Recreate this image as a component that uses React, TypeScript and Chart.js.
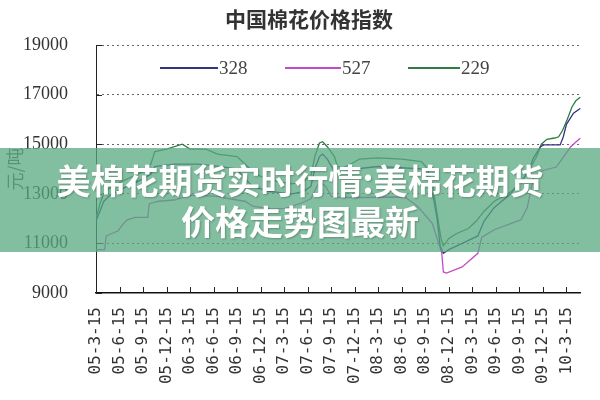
import React, { useEffect, useRef } from 'react';
import { Chart, registerables } from 'chart.js';

Chart.register(...registerables);

const chartTitle = '中国棉花价格指数';
const yAxisTitle = '元/吨';
const bannerLines = ['美棉花期货实时行情:美棉花期货', '价格走势图最新'];

const tickLabels = [
  '05-3-15', '05-6-15', '05-9-15', '05-12-15', '06-3-15', '06-6-15', '06-9-15',
  '06-12-15', '07-3-15', '07-6-15', '07-9-15', '07-12-15', '08-3-15', '08-6-15',
  '08-9-15', '08-12-15', '09-3-15', '09-6-15', '09-9-15', '09-12-15', '10-3-15',
];
const monthsPerTick = 3;
const xMaxMonth = 61.8;
const yMin = 9000;
const yMax = 19000;
const yStep = 2000;

const seriesNames = ['328', '527', '229'];
const seriesColors = ['#34357a', '#c24cc4', '#2f7c45'];

// months since 05-3-15
const months328 = [
  0, 0.5, 1, 2, 4, 6, 7, 7.5, 10, 13,
  16, 18, 19, 20, 22, 25, 26.5, 27.4, 27.9, 28.5,
  28.9, 29.5, 30.4, 31, 33, 36, 39, 41.5, 42.3, 43,
  43.5, 43.9, 44.3, 45, 46.7, 48.7, 49.5, 50.8, 52.9, 55,
  55.8, 56.7, 57.1, 59.2, 59.6, 60, 60.9, 61.8,
];
const values328 = [
  11900, 12300, 12700, 13000, 13300, 13600, 13800, 14100, 14200, 14200,
  14100, 14000, 13600, 13300, 13100, 13000, 13100, 13300, 14000, 14500,
  14600, 14400, 13900, 13800, 14000, 14100, 14050, 14000, 13700, 12900,
  12000, 10900, 10600, 10750, 11000, 11300, 11900, 12450, 13000, 13800,
  14450, 14900, 14970, 14970, 15300, 15800, 16250, 16450,
];

const months527 = [
  0, 1.1, 1.3, 2, 2.8, 3.5, 4, 5, 6.6, 6.8,
  8, 10, 11.5, 12, 15.5, 17, 19, 20, 22, 24,
  26, 27.4, 28.5, 29.3, 30, 31, 34, 38, 39.5, 41,
  42.9, 43.7, 44.1, 44.3, 44.7, 46.7, 48.7, 49.2, 50.8, 52.9,
  54.2, 55, 55.8, 57.1, 58.7, 59.6, 60.5, 61.2, 61.8,
];
const values527 = [
  10750, 10750, 11300, 11400, 11500, 11800, 11950, 12050, 12050, 12600,
  12700, 12750, 12900, 12950, 12900, 12800, 12700, 12500, 12400, 12400,
  12600, 12800, 13500, 13300, 12900, 12850, 12850, 12870, 12850, 12500,
  11800, 11000, 10600, 9850, 9800, 10050, 10600, 11250, 11550, 11800,
  11950, 12450, 13650, 13950, 14080, 14480, 14880, 15090, 15250,
];

const months229 = [
  0, 0.5, 1, 2, 4, 6, 7, 7.5, 9, 11,
  12, 14, 15.5, 18, 19, 20, 21, 23, 25, 26.5,
  27.4, 27.9, 28.5, 28.9, 29.5, 30.4, 30.8, 31.5, 32.5, 33.6,
  36, 39, 41.5, 42.3, 43, 43.5, 44, 44.3, 45, 46,
  47.5, 48.5, 49.5, 50.8, 52, 53, 54.5, 55.5, 56.2, 56.8,
  57.5, 58.5, 59, 59.5, 60.1, 60.7, 61.2, 61.8,
];
const values229 = [
  12000, 12600, 13000, 13300, 13600, 13900, 14200, 14700, 14800, 15000,
  14800, 14800, 14600, 14500, 14200, 13900, 13700, 13500, 13400, 13500,
  13700, 14500, 15050, 15100, 14900, 14500, 14100, 14050, 14200, 14400,
  14450, 14400, 14300, 14000, 13200, 12200, 11200, 10900, 11200, 11400,
  11600, 11900, 12300, 12700, 12900, 13100, 13600, 14100, 14500, 15000,
  15200, 15250, 15300, 15550, 16000, 16500, 16750, 16900,
];

const seriesMonths = [months328, months527, months229];
const seriesValues = [values328, values527, values229];

const decorPlugin = {
  id: 'decor',
  afterDraw(chart: any) {
    const { ctx, chartArea, scales } = chart;
    ctx.save();
    // title
    ctx.fillStyle = '#333';
    ctx.font = 'bold 21px "Noto Sans CJK SC"';
    ctx.textAlign = 'center';
    ctx.textBaseline = 'middle';
    ctx.fillText(chartTitle, 309, 19);

    // inner tick marks
    ctx.strokeStyle = '#222';
    ctx.lineWidth = 1;
    ctx.beginPath();
    scales.x.ticks.forEach((t: any) => {
      const px = Math.round(scales.x.getPixelForValue(t.value)) + 0.5;
      ctx.moveTo(px, chartArea.bottom);
      ctx.lineTo(px, chartArea.bottom - 6);
    });
    scales.y.ticks.forEach((t: any) => {
      const py = Math.round(scales.y.getPixelForValue(t.value)) + 0.5;
      ctx.moveTo(chartArea.left, py);
      ctx.lineTo(chartArea.left + 6, py);
    });
    ctx.stroke();

    // legend
    const legendX = [160, 285, 408];
    const legendLen = [58, 56, 52];
    const ly = 68;
    ctx.font = '19px "Liberation Serif"';
    ctx.textAlign = 'left';
    chart.data.datasets.forEach((ds: any, i: number) => {
      ctx.strokeStyle = ds.borderColor;
      ctx.lineWidth = 2;
      ctx.beginPath();
      ctx.moveTo(legendX[i], ly);
      ctx.lineTo(legendX[i] + legendLen[i], ly);
      ctx.stroke();
      ctx.fillStyle = '#444';
      ctx.fillText(ds.label, legendX[i] + legendLen[i] + 1, ly + 1);
    });
    ctx.restore();
  },
};

export default function App() {
  const canvasRef = useRef<HTMLCanvasElement | null>(null);

  useEffect(() => {
    if (!canvasRef.current) return;
    const datasets = seriesNames.map((name, i) => ({
      label: name,
      data: seriesMonths[i].map((m, j) => ({ x: m, y: seriesValues[i][j] })),
      borderColor: seriesColors[i],
      backgroundColor: seriesColors[i],
      borderWidth: 1.3,
      pointRadius: 0,
      tension: 0,
      fill: false,
    }));

    const chart = new Chart(canvasRef.current, {
      type: 'line',
      data: { datasets },
      plugins: [decorPlugin],
      options: {
        animation: false,
        responsive: false,
        layout: { padding: { left: 0, right: 12, top: 45, bottom: 0 } },
        plugins: {
          legend: { display: false },
          title: { display: false },
          tooltip: { enabled: false },
        },
        scales: {
          x: {
            type: 'linear',
            min: 0,
            max: xMaxMonth,
            afterBuildTicks: (scale: any) => {
              scale.ticks = tickLabels.map((_, i) => ({ value: i * monthsPerTick }));
            },
            afterFit: (scale: any) => {
              scale.height = 107;
            },
            grid: { display: true, drawOnChartArea: false, drawTicks: false },
            border: { display: true, color: '#111', width: 1.5 },
            ticks: {
              autoSkip: false,
              minRotation: 90,
              maxRotation: 90,
              padding: 14,
              color: '#333',
              font: { family: '"DejaVu Sans Mono"', size: 16 },
              callback: (v: any) => tickLabels[Math.round(Number(v) / monthsPerTick)] ?? '',
            },
          },
          y: {
            min: yMin,
            max: yMax,
            afterFit: (scale: any) => {
              scale.width = 96;
            },
            grid: {
              drawTicks: false,
              color: (c: any) => (c.tick && c.tick.value === yMin ? 'rgba(0,0,0,0)' : '#666'),
              lineWidth: 1,
            },
            border: { display: true, color: '#222', width: 1, dash: [2, 3] },
            ticks: {
              stepSize: yStep,
              padding: 28,
              color: '#333',
              font: { family: '"Liberation Serif"', size: 18 },
              callback: (v: any) => String(v),
            },
            title: {
              display: true,
              text: yAxisTitle,
              color: '#555',
              font: { family: '"Noto Sans CJK SC"', size: 18 },
              padding: { top: 4, bottom: 0 },
            },
          },
        },
      },
    });
    return () => chart.destroy();
  }, []);

  return (
    <div style={{ position: 'fixed', left: 0, top: 0, width: 600, height: 400, background: '#fff' }}>
      <canvas ref={canvasRef} width={600} height={400} style={{ display: 'block' }} />
      <div
        style={{
          position: 'absolute',
          left: 0,
          top: 148,
          width: 600,
          height: 104,
          background: 'rgba(88,168,128,0.75)',
          color: '#fff',
          fontFamily: '"Noto Sans CJK SC", sans-serif',
          fontWeight: 700,
          fontSize: 34,
          lineHeight: '41px',
          textAlign: 'center',
          paddingTop: 11,
          boxSizing: 'border-box',
          textShadow: '1px 1px 2px rgba(0,0,0,0.25)',
        }}
      >
        {bannerLines.map((l) => (
          <div key={l}>{l}</div>
        ))}
      </div>
    </div>
  );
}
